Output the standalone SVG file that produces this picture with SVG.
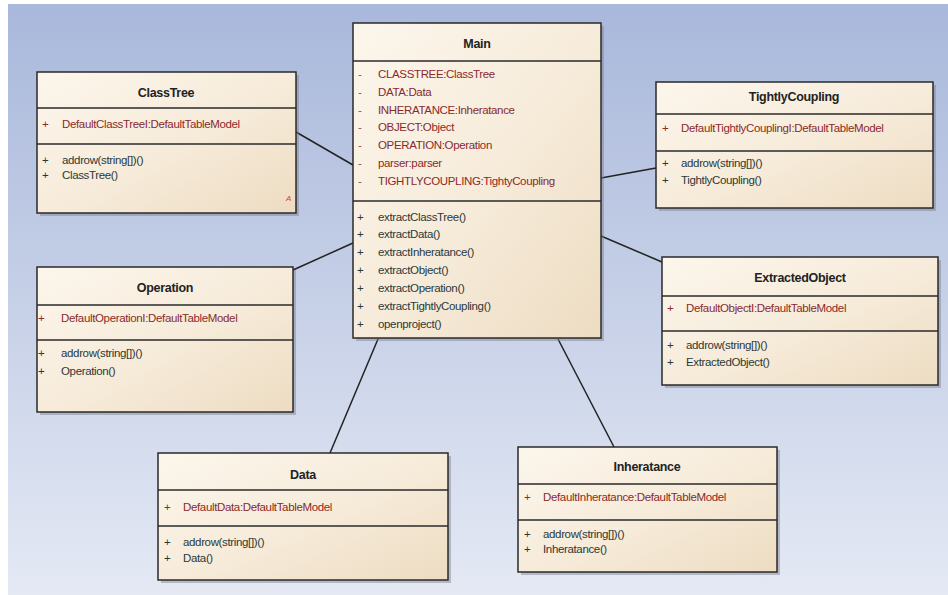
<svg xmlns="http://www.w3.org/2000/svg" width="948" height="595" viewBox="0 0 948 595">
<defs>
<linearGradient id="bg" x1="0" y1="0" x2="0" y2="1">
<stop offset="0" stop-color="#a9b8db"/>
<stop offset="0.5" stop-color="#c6d0e7"/>
<stop offset="1" stop-color="#e4e9f4"/>
</linearGradient>
<linearGradient id="box" x1="0" y1="0" x2="1" y2="1">
<stop offset="0" stop-color="#fcf6ec"/>
<stop offset="0.5" stop-color="#f7ecdb"/>
<stop offset="1" stop-color="#eddcc2"/>
</linearGradient>
<style>
.frame{fill:url(#box);stroke:#2a2a2a;stroke-width:1.5}
.shadow{fill:#7a7f8c;opacity:0.45}
.sep{stroke:#2a2a2a;stroke-width:1.5}
.title{font-family:"Liberation Sans",Arial,sans-serif;font-size:12.5px;font-weight:bold;fill:#222;text-anchor:middle;letter-spacing:-0.3px}
.attr{font-family:"Liberation Sans",Arial,sans-serif;font-size:11.5px;fill:#8a2a2a;letter-spacing:-0.35px}
.meth{font-family:"Liberation Sans",Arial,sans-serif;font-size:11.5px;fill:#2b3838;letter-spacing:-0.35px}
.vis{font-family:"Liberation Sans",Arial,sans-serif;font-size:11.5px;fill:#8a2a2a}
.visg{font-family:"Liberation Sans",Arial,sans-serif;font-size:11.5px;fill:#7a5a5a}
.visd{font-family:"Liberation Sans",Arial,sans-serif;font-size:11.5px;fill:#2b3838}
.conn{stroke:#222;stroke-width:1.5;fill:none}
</style>
</defs>
<rect x="0" y="0" width="948" height="595" fill="#ffffff"/>
<rect x="8" y="4" width="940" height="591" fill="url(#bg)"/>

<g id="connectors">
<line class="conn" x1="296" y1="132" x2="353" y2="165"/>
<line class="conn" x1="293" y1="270" x2="353" y2="243"/>
<line class="conn" x1="601" y1="178" x2="656" y2="168"/>
<line class="conn" x1="601" y1="236" x2="662" y2="262"/>
<line class="conn" x1="330" y1="453" x2="378" y2="339"/>
<line class="conn" x1="558" y1="339" x2="614" y2="447"/>
</g>

<g id="Main">
<rect class="shadow" x="356" y="26" width="248" height="315"/>
<rect class="frame" x="353" y="23" width="248" height="315"/>
<line class="sep" x1="353" y1="61" x2="601" y2="61"/>
<line class="sep" x1="353" y1="201" x2="601" y2="201"/>
<text class="title" x="477" y="48">Main</text>
<text class="visg" x="358" y="78">-</text><text class="attr" x="378" y="78">CLASSTREE:ClassTree</text>
<text class="visg" x="358" y="96">-</text><text class="attr" x="378" y="96">DATA:Data</text>
<text class="visg" x="358" y="114">-</text><text class="attr" x="378" y="114">INHERATANCE:Inheratance</text>
<text class="visg" x="358" y="131">-</text><text class="attr" x="378" y="131">OBJECT:Object</text>
<text class="visg" x="358" y="149">-</text><text class="attr" x="378" y="149">OPERATION:Operation</text>
<text class="visg" x="358" y="167">-</text><text class="attr" x="378" y="167">parser:parser</text>
<text class="visg" x="358" y="185">-</text><text class="attr" x="378" y="185">TIGHTLYCOUPLING:TightyCoupling</text>
<text class="visd" x="357" y="221">+</text><text class="meth" x="378" y="221">extractClassTree()</text>
<text class="visd" x="357" y="238">+</text><text class="meth" x="378" y="238">extractData()</text>
<text class="visd" x="357" y="256">+</text><text class="meth" x="378" y="256">extractInheratance()</text>
<text class="visd" x="357" y="274">+</text><text class="meth" x="378" y="274">extractObject()</text>
<text class="visd" x="357" y="292">+</text><text class="meth" x="378" y="292">extractOperation()</text>
<text class="visd" x="357" y="310">+</text><text class="meth" x="378" y="310">extractTightlyCoupling()</text>
<text class="visd" x="357" y="328">+</text><text class="meth" x="378" y="328">openproject()</text>
</g>

<g id="ClassTree">
<rect class="shadow" x="40" y="75" width="259" height="141"/>
<rect class="frame" x="37" y="72" width="259" height="141"/>
<line class="sep" x1="37" y1="108" x2="296" y2="108"/>
<line class="sep" x1="37" y1="144" x2="296" y2="144"/>
<text class="title" x="166" y="97">ClassTree</text>
<text class="vis" x="42" y="128">+</text><text class="attr" x="62" y="128">DefaultClassTreeI:DefaultTableModel</text>
<text class="visd" x="42" y="164">+</text><text class="meth" x="62" y="164">addrow(string[])()</text>
<text class="visd" x="42" y="179">+</text><text class="meth" x="62" y="179">ClassTree()</text>
<text x="286" y="201" font-family="Liberation Sans, Arial, sans-serif" font-size="8" font-style="italic" fill="#d04040">A</text>
</g>

<g id="Operation">
<rect class="shadow" x="40" y="270" width="256" height="145"/>
<rect class="frame" x="37" y="267" width="256" height="145"/>
<line class="sep" x1="37" y1="305" x2="293" y2="305"/>
<line class="sep" x1="37" y1="340" x2="293" y2="340"/>
<text class="title" x="165" y="292">Operation</text>
<text class="vis" x="38" y="322">+</text><text class="attr" x="61" y="322">DefaultOperationI:DefaultTableModel</text>
<text class="visd" x="38" y="357">+</text><text class="meth" x="61" y="357">addrow(string[])()</text>
<text class="visd" x="38" y="375">+</text><text class="meth" x="61" y="375">Operation()</text>
</g>

<g id="TightlyCoupling">
<rect class="shadow" x="659" y="85" width="277" height="126"/>
<rect class="frame" x="656" y="82" width="277" height="126"/>
<line class="sep" x1="656" y1="114" x2="933" y2="114"/>
<line class="sep" x1="656" y1="151" x2="933" y2="151"/>
<text class="title" x="794" y="101">TightlyCoupling</text>
<text class="vis" x="662" y="132">+</text><text class="attr" x="681" y="132">DefaultTightlyCouplingI:DefaultTableModel</text>
<text class="visd" x="662" y="167">+</text><text class="meth" x="681" y="167">addrow(string[])()</text>
<text class="visd" x="662" y="184">+</text><text class="meth" x="681" y="184">TightlyCoupling()</text>
</g>

<g id="ExtractedObject">
<rect class="shadow" x="665" y="260" width="276" height="128"/>
<rect class="frame" x="662" y="257" width="276" height="128"/>
<line class="sep" x1="662" y1="296" x2="938" y2="296"/>
<line class="sep" x1="662" y1="331" x2="938" y2="331"/>
<text class="title" x="800" y="282">ExtractedObject</text>
<text class="vis" x="667" y="312">+</text><text class="attr" x="686" y="312">DefaultObjectI:DefaultTableModel</text>
<text class="visd" x="667" y="349">+</text><text class="meth" x="686" y="349">addrow(string[])()</text>
<text class="visd" x="667" y="366">+</text><text class="meth" x="686" y="366">ExtractedObject()</text>
</g>

<g id="Data">
<rect class="shadow" x="161" y="456" width="290" height="127"/>
<rect class="frame" x="158" y="453" width="290" height="127"/>
<line class="sep" x1="158" y1="490" x2="448" y2="490"/>
<line class="sep" x1="158" y1="526" x2="448" y2="526"/>
<text class="title" x="303" y="479">Data</text>
<text class="vis" x="164" y="511">+</text><text class="attr" x="183" y="511">DefaultData:DefaultTableModel</text>
<text class="visd" x="164" y="546">+</text><text class="meth" x="183" y="546">addrow(string[])()</text>
<text class="visd" x="164" y="562">+</text><text class="meth" x="183" y="562">Data()</text>
</g>

<g id="Inheratance">
<rect class="shadow" x="521" y="450" width="259" height="125"/>
<rect class="frame" x="518" y="447" width="259" height="125"/>
<line class="sep" x1="518" y1="484" x2="777" y2="484"/>
<line class="sep" x1="518" y1="520" x2="777" y2="520"/>
<text class="title" x="647" y="471">Inheratance</text>
<text class="vis" x="524" y="501">+</text><text class="attr" x="543" y="501">DefaultInheratance:DefaultTableModel</text>
<text class="visd" x="524" y="538">+</text><text class="meth" x="543" y="538">addrow(string[])()</text>
<text class="visd" x="524" y="553">+</text><text class="meth" x="543" y="553">Inheratance()</text>
</g>
</svg>
